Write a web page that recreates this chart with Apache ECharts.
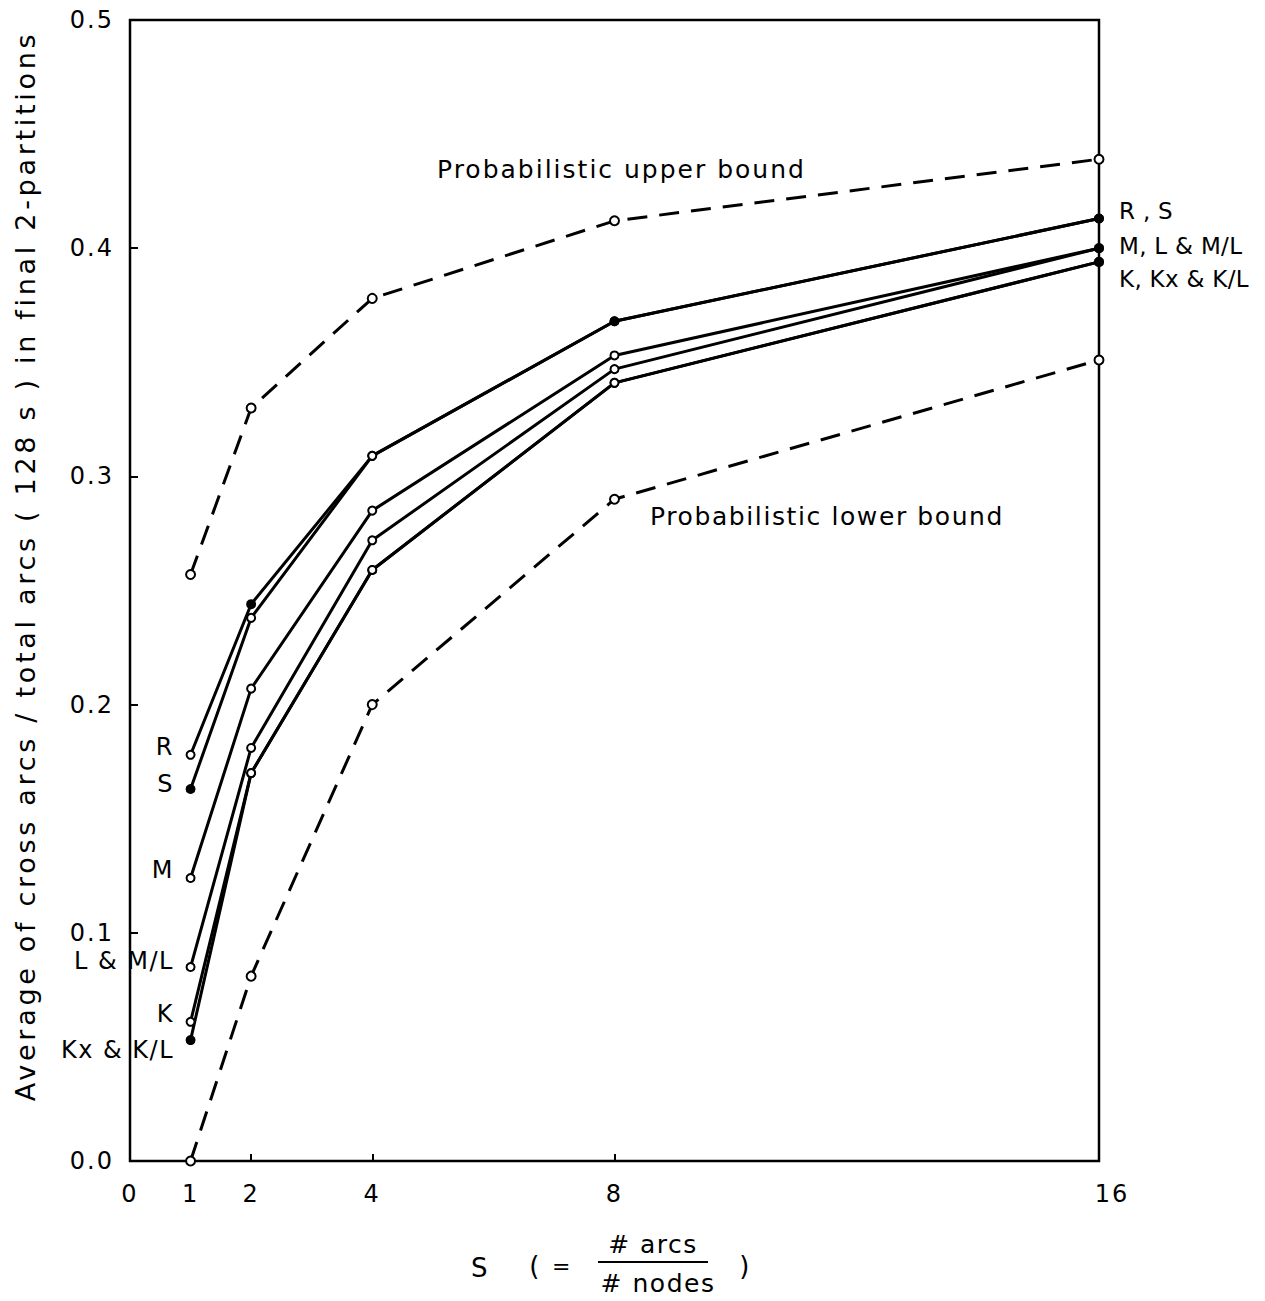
<!DOCTYPE html>
<html><head><meta charset="utf-8">
<script src="https://cdn.jsdelivr.net/npm/echarts@6/dist/echarts.min.js"></script>
<style>html,body{margin:0;padding:0;background:#fff}#c{width:1265px;height:1301px}</style>
</head><body><div id="c"></div>
<script>
// ---- data ----
const xValues = [1, 2, 4, 8, 16];
const xTickLabels = [0, 1, 2, 4, 8, 16];
const xInnerTicks = [2, 4, 8];
const yTickLabels = [0, 0.1, 0.2, 0.3, 0.4, 0.5];
const upperBound = [0.257, 0.330, 0.378, 0.412, 0.439];
const lowerBound = [0.000, 0.081, 0.200, 0.290, 0.351];
const seriesR  = [0.178, 0.244, 0.309, 0.368, 0.413];
const seriesS  = [0.163, 0.238, 0.309, 0.368, 0.413];
const seriesM  = [0.124, 0.207, 0.285, 0.353, 0.400];
const seriesL  = [0.085, 0.181, 0.272, 0.347, 0.400];
const seriesK  = [0.061, 0.170, 0.259, 0.341, 0.394];
const seriesKx = [0.053, 0.170, 0.259, 0.341, 0.394];

const yTitle = 'Average of cross arcs / total arcs ( 128 s ) in final 2-partitions';
const upperText = 'Probabilistic upper bound';
const lowerText = 'Probabilistic lower bound';
const rightLabels = ['R , S', 'M, L & M/L', 'K, Kx & K/L'];

// ---- style helpers ----
const filledIdx = { 'R': [1, 3, 4], 'S': [0, 3, 4], 'M': [4], 'L & M/L': [4], 'K': [4], 'Kx & K/L': [0, 4] };
const FONT = '"DejaVu Sans", sans-serif';

function mkData(vals, filled) {
  return vals.map((v, i) => {
    const d = { value: [xValues[i], v] };
    if (filled && filled.indexOf(i) >= 0) d.itemStyle = { color: '#000' };
    return d;
  });
}
function solid(name, vals) {
  return {
    name, type: 'line', data: mkData(vals, filledIdx[name]), symbol: 'circle', symbolSize: 8,
    showAllSymbol: true, z: 3,
    lineStyle: { color: '#000', width: 3 },
    itemStyle: { color: '#fff', borderColor: '#000', borderWidth: 2 }
  };
}
function dashed(name, vals) {
  return {
    name, type: 'line', data: mkData(vals, null), symbol: 'circle', symbolSize: 9, z: 2,
    lineStyle: { color: '#000', width: 3, type: [20, 12] },
    itemStyle: { color: '#fff', borderColor: '#000', borderWidth: 2 }
  };
}

const chart = echarts.init(document.getElementById('c'), null, { renderer: 'svg' });
function txt(text, x, y, size, align, extra) {
  return Object.assign({ type: 'text', x, y, z: 10,
    style: { text, font: size + 'px ' + FONT, fill: '#000', textAlign: align || 'left', textVerticalAlign: 'middle' } }, extra || {});
}

chart.setOption({
  animation: false,
  backgroundColor: '#fff',
  grid: { left: 130, right: 166, top: 20, bottom: 140, show: true, borderColor: '#000', borderWidth: 2.5, backgroundColor: 'transparent' },
  xAxis: {
    type: 'value', min: 0, max: 16, interval: 1,
    axisLine: { show: false },
    splitLine: { show: false },
    axisTick: { show: true, inside: true, length: 7, customValues: xInnerTicks, lineStyle: { color: '#000', width: 2 } },
    axisLabel: { customValues: xTickLabels, color: '#000', fontSize: 24, fontFamily: FONT, margin: 21,
      formatter: v => (v === 16 ? '{r|' + v + '}' : String(v + '')),
      rich: { r: { fontSize: 24, fontFamily: FONT, color: '#000', padding: [0, 0, 0, 26] } } }
  },
  yAxis: {
    type: 'value', min: 0, max: 0.5, interval: 0.1,
    axisLine: { show: false },
    splitLine: { show: false },
    axisTick: { show: true, inside: true, length: 8, lineStyle: { color: '#000', width: 2 } },
    axisLabel: { customValues: yTickLabels, color: '#000', fontSize: 24, fontFamily: FONT, margin: 16,
      formatter: v => v.toFixed(1) }
  },
  series: [
    dashed('upper', upperBound),
    dashed('lower', lowerBound),
    solid('R', seriesR), solid('S', seriesS), solid('M', seriesM),
    solid('L & M/L', seriesL), solid('K', seriesK), solid('Kx & K/L', seriesKx)
  ],
  graphic: [
    txt(yTitle, 25, 566, 27, 'center', { rotation: Math.PI / 2 }),
    txt(upperText, 437, 169, 25, 'left'),
    txt(lowerText, 650, 516, 25, 'left'),
    txt(rightLabels[0], 1119, 211, 23, 'left'),
    txt(rightLabels[1], 1119, 246, 23, 'left'),
    txt(rightLabels[2], 1119, 279, 23, 'left'),
    txt('R', 174, 747, 24, 'right'),
    txt('S', 174, 784, 24, 'right'),
    txt('M', 174, 870, 24, 'right'),
    txt('L & M/L', 174, 961, 24, 'right'),
    txt('K', 174, 1014, 24, 'right'),
    txt('Kx & K/L', 174, 1050, 24, 'right'),
    txt('S', 480, 1268, 26, 'center'),
    txt('(', 535, 1266, 26, 'center'),
    txt('=', 562, 1266, 22, 'center'),
    txt('# arcs', 653, 1244, 25, 'center'),
    { type: 'line', z: 10, shape: { x1: 598, y1: 1262, x2: 708, y2: 1262 }, style: { stroke: '#000', lineWidth: 2 } },
    txt('# nodes', 658, 1283, 25, 'center'),
    txt(')', 745, 1266, 26, 'center')
  ]
});

// wide "Leroy-lettering" look: letter spacing on the SVG text nodes
function applySpacing() {
  document.querySelectorAll('#c svg text').forEach(t => {
    const s = t.textContent;
    let ls = 1.5;
    if (s === yTitle) ls = 3.7;
    else if (s === upperText) ls = 2;
    else if (s === lowerText) ls = 1.6;
    else if (rightLabels.indexOf(s) >= 0) ls = 0.3;
    else if (/^[0-9.]+$/.test(s)) ls = 2;
    t.setAttribute('letter-spacing', ls + 'px');
  });
}
applySpacing();
chart.on('finished', applySpacing);
</script></body></html>
